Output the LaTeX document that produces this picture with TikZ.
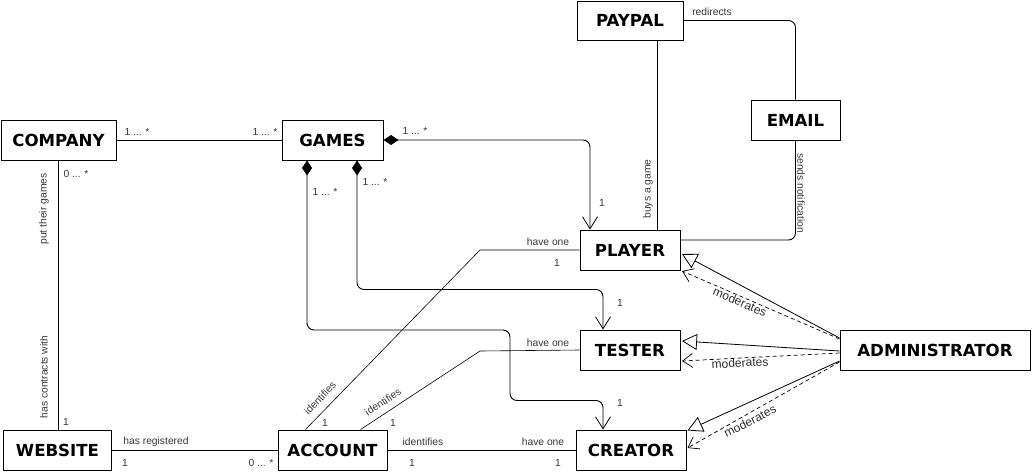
\documentclass[tikz,border=0pt]{standalone}
\usepackage{fontspec}
\setmainfont{Liberation Sans}
\newfontfamily\boxfont{DejaVu Sans}
\usetikzlibrary{arrows.meta,calc}
\begin{document}
\begin{tikzpicture}[x=1pt,y=-1pt,
  cls/.style={draw, line width=1pt, fill=white, minimum height=40pt, inner sep=0pt,
    font=\boxfont\bfseries\fontsize{16.6}{18}\selectfont},
  lbl/.style={font=\fontsize{10.3}{12}\selectfont, text=black!78, inner sep=0pt},
  modlbl/.style={font=\fontsize{12}{14}\selectfont, text=black!82, inner sep=0pt},
  assoc/.style={line width=0.9pt, rounded corners=7pt},
  diag/.style={line width=0.6pt},
  comp/.style={{Diamond[length=15pt,width=10pt]}-{Straight Barb[length=12pt,width=15pt,line width=0.8pt]}},
  gen/.style={line width=0.8pt, -{Triangle[open,length=15pt,width=16pt,line width=0.8pt]}},
  dep/.style={line width=0.7pt, dash pattern=on 4pt off 3pt, -{Straight Barb[length=10pt,width=14pt,line width=0.7pt]}}
]
\useasboundingbox (0,0) rectangle (1032,474);
% classes
\node[cls, minimum width=115pt] (company) at (58.5,140) {COMPANY};
\node[cls, minimum width=101pt] (games) at (332.5,140) {GAMES};
\node[cls, minimum width=106pt, minimum height=39pt] (paypal) at (630,20.5) {PAYPAL};
\node[cls, minimum width=89pt] (email) at (795.5,120) {EMAIL};
\node[cls, minimum width=100pt] (player) at (630,250) {PLAYER};
\node[cls, minimum width=100pt] (tester) at (630,350) {TESTER};
\node[cls, minimum width=110pt] (creator) at (631,450) {CREATOR};
\node[cls, minimum width=190pt] (admin) at (935,350) {ADMINISTRATOR};
\node[cls, minimum width=108pt] (website) at (57.5,450) {WEBSITE};
\node[cls, minimum width=109pt] (account) at (332.5,450) {ACCOUNT};
% associations
\draw[assoc] (company.east) -- (games.west);
\draw[assoc] (company.south) -- (company.south |- website.north);
\draw[assoc] (website.east) -- (account.west);
\draw[assoc] (account.east) -- (creator.west);
\draw[diag] ($(account.north)+(-27,0)$) -- (480,250) -- (player.west);
\draw[diag] ($(account.north)+(28,0)$) -- (480,351) -- (tester.west);
\draw[assoc] ($(paypal.south)+(27,0)$) -- ($(player.north)+(27,0)$);
\draw[assoc] (paypal.east) -| (email.north);
\draw[assoc] (email.south) |- ($(player.east)+(0,-10)$);
\draw[assoc, comp] (games.east) -| ($(player.north)+(-40,0)$);
\draw[assoc, comp] ($(games.south)+(24.5,0)$) |- ($(tester.north)+(-27,-40)$) -- ($(tester.north)+(-27,0)$);
\draw[assoc, comp] ($(games.south)+(-25.5,0)$) |- (510,330) |- ($(creator.north)+(-28,-29)$) -- ($(creator.north)+(-28,0)$);
% administrator
\draw[gen] ($(admin.west)+(0,-12)$) -- ($(player.east)+(1.5,4)$);
\draw[dep] ($(admin.west)+(0,-11)$) -- ($(player.east)+(1.5,21)$);
\draw[gen] ($(admin.west)+(0,1)$) -- ($(tester.east)+(1.5,-9)$);
\draw[dep] ($(admin.west)+(0,3)$) -- ($(tester.east)+(1.5,11)$);
\draw[gen] ($(admin.west)+(0,11)$) -- ($(creator.north east)+(1,1)$);
\draw[dep] ($(admin.west)+(0,12)$) -- ($(creator.east)+(1,-2)$);
% labels
\node[lbl] (t1) at (137,132) {1 ... *};
\node[lbl] (t2) at (265,132) {1 ... *};
\node[lbl] (t3) at (415,131) {1 ... *};
\node[lbl] (t4) at (76,174) {0 ... *};
\node[lbl] (t5) at (325,192) {1 ... *};
\node[lbl] (t6) at (375,182) {1 ... *};
\node[lbl] (t7) at (602,203) {1};
\node[lbl] (t8) at (620,303) {1};
\node[lbl] (t9) at (620,403) {1};
\node[lbl, rotate=90] (t10) at (44,209) {put their games};
\node[lbl, rotate=90] (t11) at (44,377) {has contracts with};
\node[lbl] (t12) at (66,422) {1};
\node[lbl, rotate=90] (t13) at (648,189) {buys a game};
\node[lbl] (t14) at (712,12) {redirects};
\node[lbl, rotate=-90] (t15) at (801,193) {sends notification};
\node[lbl] (t16) at (548,242) {have one};
\node[lbl] (t17) at (557,263) {1};
\node[lbl] (t18) at (548,343) {have one};
\node[lbl, rotate=46] (t19) at (320,398) {identifies};
\node[lbl, rotate=33] (t20) at (383,402) {identifies};
\node[lbl] (t21) at (325,423) {1};
\node[lbl] (t22) at (393,423) {1};
\node[lbl] (t23) at (156,442) {has registered};
\node[lbl] (t24) at (125,463) {1};
\node[lbl] (t25) at (261,463) {0 ... *};
\node[lbl] (t26) at (423,442) {identifies};
\node[lbl] (t27) at (412,463) {1};
\node[lbl] (t28) at (543,442) {have one};
\node[lbl] (t29) at (558,463) {1};
\node[modlbl, rotate=-23] (t30) at (740,302) {moderates};
\node[modlbl, rotate=3] (t31) at (740,363) {moderates};
\node[modlbl, rotate=27] (t32) at (750,421) {moderates};
\end{tikzpicture}
\end{document}
